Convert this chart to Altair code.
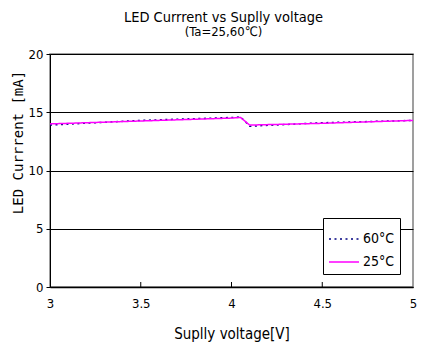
import altair as alt
import pandas as pd

voltage = [3.0, 3.5, 4.0, 4.05, 4.1, 4.5, 5.0]
current_60 = [13.9, 14.3, 14.55, 14.6, 13.8, 14.1, 14.3]
current_25 = [14.0, 14.25, 14.5, 14.55, 13.9, 14.05, 14.3]
series = ["60°C", "25°C"]
x_ticks = [3, 3.5, 4, 4.5, 5]
y_ticks = [0, 5, 10, 15, 20]

rows = []
for v, a, b in zip(voltage, current_60, current_25):
    rows.append({"V": v, "I": a, "T": series[0]})
    rows.append({"V": v, "I": b, "T": series[1]})
df = pd.DataFrame(rows)
ticks_df = pd.DataFrame({"V": x_ticks[1:-1]})

FONT = "Liberation Sans Narrow, DejaVu Sans Condensed, sans-serif"
W, H = 363, 233

xscale = alt.Scale(domain=[3, 5], nice=False)
yscale = alt.Scale(domain=[0, 20], nice=False)

lines = alt.Chart(df).mark_line(strokeWidth=1.5).encode(
    x=alt.X("V:Q", scale=xscale,
            axis=alt.Axis(values=x_ticks, title="Suplly voltage[V]", grid=False,
                          ticks=False, labelFont=FONT, labelFontSize=13,
                          labelColor="black", labelPadding=10, labelFlush=False,
                          labelOverlap=False, labelBound=False,
                          labelExpr="datum.value",
                          titleFont=FONT, titleFontSize=15, titleFontWeight="normal",
                          titleColor="black", titlePadding=16,
                          domainColor="black", domainWidth=1.5)),
    y=alt.Y("I:Q", scale=yscale,
            axis=alt.Axis(values=y_ticks, title="LED Currrent [mA]", grid=True,
                          gridColor="black", gridWidth=1, gridOpacity=1,
                          tickColor="black", tickSize=4,
                          labelFont=FONT, labelFontSize=13, labelColor="black",
                          labelPadding=3,
                          titleFont="DejaVu Sans Mono", titleFontSize=14,
                          titleFontWeight="normal", titleColor="black",
                          titlePadding=3, titleY=88,
                          domainColor="black", domainWidth=1)),
    color=alt.Color("T:N", scale=alt.Scale(domain=series, range=["#000080", "#ff00ff"]),
                    legend=alt.Legend(title=None, orient="none", legendX=273, legendY=164,
                                      fillColor="white", strokeColor="black",
                                      padding=5, symbolType="stroke",
                                      symbolSize=900, symbolStrokeWidth=1.5,
                                      labelFont=FONT, labelFontSize=14,
                                      labelColor="black", rowPadding=-3,
                                      labelOffset=3)),
    strokeDash=alt.StrokeDash("T:N", scale=alt.Scale(domain=series, range=[[2, 3.5], [1, 0]]),
                              legend=None),
)

tickmarks = alt.Chart(ticks_df).mark_rule(color="black", strokeWidth=1).encode(
    x=alt.X("V:Q", scale=xscale),
    y=alt.value(H),
    y2=alt.value(H - 5),
)

chart = alt.layer(lines, tickmarks).properties(
    width=W, height=H,
    title=alt.TitleParams(text="LED Currrent vs Suplly voltage", subtitle="(Ta=25,60℃)",
                          font=FONT, fontSize=14.5, fontWeight="normal", color="black",
                          subtitleFont=FONT, subtitleFontSize=13, subtitleColor="black",
                          anchor="middle", offset=8, dx=-8, subtitlePadding=1),
    autosize=alt.AutoSizeParams(type="none"),
    padding={"left": 42, "top": 46, "right": 4, "bottom": 59},
).configure_view(stroke="#808080", strokeWidth=1.5)

chart.save("out.html", embed_options={"renderer": "svg", "actions": False})
